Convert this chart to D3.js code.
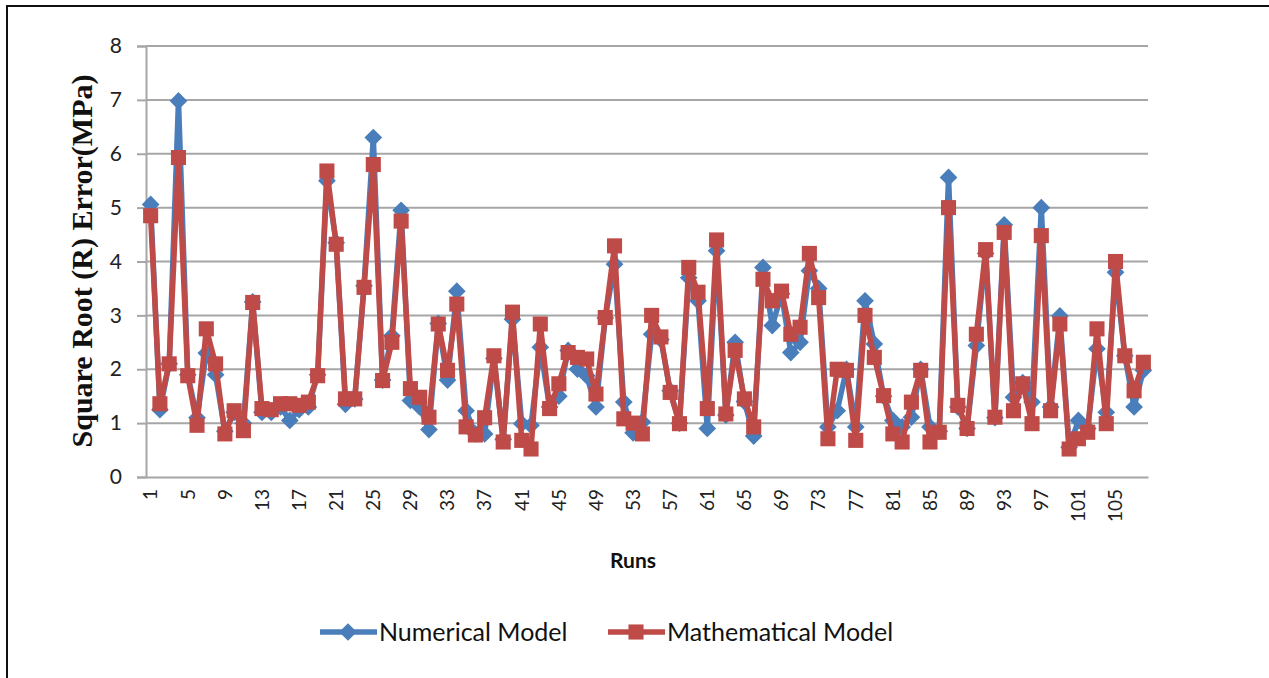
<!DOCTYPE html>
<html>
<head>
<meta charset="utf-8">
<script src="https://cdn.jsdelivr.net/npm/d3@7"></script>
<style>
  body { margin: 0; background: #fff; }
  svg { display: block; }
  .tick-lbl { font-family: Lato, "Open Sans", sans-serif; fill: #222; }
</style>
</head>
<body>
<svg id="chart" width="1269" height="678"></svg>
<script>
// runs 1..108 on the category axis
const runs = d3.range(1, 109);
const tickRuns = [1, 5, 9, 13, 17, 21, 25, 29, 33, 37, 41, 45, 49, 53, 57, 61, 65, 69, 73, 77, 81, 85, 89, 93, 97, 101, 105];
const yTicks = [0, 1, 2, 3, 4, 5, 6, 7, 8];

const numerical = [
  5.06, 1.25, 2.1, 6.98, 1.9, 1.1, 2.3, 1.9, 0.85, 1.2,
  1.0, 3.25, 1.2, 1.2, 1.3, 1.05, 1.25, 1.3, 1.9, 5.5,
  4.35, 1.35, 1.45, 3.55, 6.3, 1.8, 2.62, 4.95, 1.42, 1.3,
  0.88, 2.85, 1.8, 3.45, 1.23, 0.8, 0.8, 2.2, 0.7, 2.93,
  0.99, 0.96, 2.41, 1.3, 1.5, 2.35, 2.0, 1.88, 1.3, 2.95,
  3.95, 1.39, 0.82, 1.02, 2.65, 2.55, 1.6, 1.0, 3.7, 3.27,
  0.9, 4.2, 1.15, 2.5, 1.4, 0.76, 3.89, 2.81, 3.4, 2.31,
  2.5, 3.83, 3.5, 0.93, 1.23, 2.0, 0.93, 3.27, 2.47, 1.5,
  1.05, 0.93, 1.11, 2.0, 0.93, 0.85, 5.56, 1.3, 0.9, 2.44,
  4.15, 1.1, 4.68, 1.48, 1.75, 1.39, 5.0, 1.3, 2.99, 0.55,
  1.05, 0.9, 2.38, 1.2, 3.8, 2.25, 1.3, 1.98
];

const mathematical = [
  4.85, 1.36, 2.1, 5.93, 1.88, 0.96, 2.75, 2.1, 0.8, 1.23,
  0.86, 3.24, 1.27, 1.25, 1.36, 1.36, 1.33, 1.39, 1.88, 5.68,
  4.32, 1.45, 1.45, 3.52, 5.8, 1.79, 2.5, 4.75, 1.64, 1.48,
  1.11, 2.84, 1.98, 3.21, 0.93, 0.78, 1.1, 2.25, 0.65, 3.06,
  0.68, 0.52, 2.84, 1.27, 1.73, 2.31, 2.22, 2.19, 1.54, 2.96,
  4.29, 1.08, 1.0, 0.8, 3.0, 2.6, 1.57, 0.99, 3.89, 3.43,
  1.27, 4.4, 1.17, 2.35, 1.45, 0.93, 3.67, 3.27, 3.45, 2.65,
  2.78, 4.15, 3.33, 0.71, 2.0, 1.98, 0.68, 3.0, 2.22, 1.51,
  0.8, 0.65, 1.39, 1.98, 0.65, 0.83, 5.0, 1.33, 0.9, 2.65,
  4.22, 1.11, 4.54, 1.23, 1.73, 0.99, 4.48, 1.23, 2.84, 0.52,
  0.71, 0.83, 2.75, 0.99, 4.0, 2.25, 1.6, 2.13
];

const blue = "#4A7EBB", red = "#BE4B48", grid = "#A6A6A6";

const svg = d3.select("#chart");

// outer frame (runs off the right and bottom edge like the reference crop)
svg.append("rect")
  .attr("x", 7).attr("y", 6)
  .attr("width", 1300).attr("height", 700)
  .attr("fill", "#fff").attr("stroke", "#111").attr("stroke-width", 2);

const x = d3.scaleBand().domain(runs).range([146, 1148]);
const xc = r => x(r) + x.bandwidth() / 2;
const y = d3.scaleLinear().domain([0, 8]).range([477, 46]);

// gridlines
svg.append("g").selectAll("line")
  .data(yTicks.filter(t => t > 0))
  .join("line")
  .attr("x1", 146).attr("x2", 1148)
  .attr("y1", d => y(d)).attr("y2", d => y(d))
  .attr("stroke", grid).attr("stroke-width", 2);

// y axis
const yAxis = svg.append("g")
  .attr("transform", "translate(146,0)")
  .call(d3.axisLeft(y).tickValues(yTicks).tickSize(9).tickPadding(15).tickFormat(d3.format("d")));
yAxis.select(".domain").attr("stroke", grid).attr("stroke-width", 2);
yAxis.selectAll(".tick line").attr("stroke", grid).attr("stroke-width", 2);
yAxis.selectAll(".tick text")
  .attr("class", "tick-lbl")
  .style("font-size", "21px");

// x axis
const xAxis = svg.append("g")
  .attr("transform", "translate(0,477)")
  .call(d3.axisBottom(x).tickValues(tickRuns).tickSize(0).tickPadding(0));
xAxis.select(".domain").attr("stroke", grid).attr("stroke-width", 2);
xAxis.selectAll(".tick text")
  .attr("class", "tick-lbl")
  .style("font-size", "19px")
  .attr("text-anchor", "end")
  .attr("transform", "rotate(-90)")
  .attr("x", -12)
  .attr("y", 0)
  .attr("dy", "0.36em");

// series
const line = d3.line().x((d, i) => xc(runs[i])).y(d => y(d));
const diamond = d3.symbol().type(d3.symbolDiamond2).size(200);
const square = d3.symbol().type(d3.symbolSquare2).size(290);

function drawSeries(values, color, sym) {
  const g = svg.append("g");
  g.append("path")
    .datum(values)
    .attr("d", line)
    .attr("fill", "none")
    .attr("stroke", color)
    .attr("stroke-width", 5.5)
    .attr("stroke-linejoin", "round");
  g.selectAll("path.mk")
    .data(values)
    .join("path")
    .attr("class", "mk")
    .attr("d", sym)
    .attr("transform", (d, i) => `translate(${xc(runs[i])},${y(d)})`)
    .attr("fill", color);
}
drawSeries(numerical, blue, diamond);
drawSeries(mathematical, red, square);

// axis titles
svg.append("text")
  .attr("transform", "translate(81,261) rotate(-90)")
  .attr("text-anchor", "middle")
  .attr("dy", "0.35em")
  .style("font-family", "'Liberation Serif', 'Times New Roman', serif")
  .style("font-weight", "bold")
  .style("font-size", "30px")
  .attr("fill", "#111")
  .text("Square Root (R) Error(MPa)");

svg.append("text")
  .attr("x", 633).attr("y", 561)
  .attr("text-anchor", "middle")
  .attr("dy", "0.35em")
  .style("font-family", "Lato, 'Open Sans', sans-serif")
  .style("font-weight", "bold")
  .style("font-size", "21px")
  .attr("fill", "#111")
  .text("Runs");

// legend
const legendItems = [
  { name: "Numerical Model", color: blue, sym: diamond, x0: 320 },
  { name: "Mathematical Model", color: red, sym: square, x0: 608 }
];
const lg = svg.append("g").selectAll("g")
  .data(legendItems)
  .join("g")
  .attr("transform", d => `translate(${d.x0},632)`);
lg.append("line")
  .attr("x1", 0).attr("x2", 57)
  .attr("stroke", d => d.color).attr("stroke-width", 5.5);
lg.append("path")
  .attr("d", d => d.sym())
  .attr("transform", "translate(28,0)")
  .attr("fill", d => d.color);
lg.append("text")
  .attr("x", 59)
  .attr("dy", "0.35em")
  .style("font-family", "Lato, 'Open Sans', sans-serif")
  .style("font-size", "25px")
  .attr("fill", "#111")
  .text(d => d.name);
</script>
</body>
</html>
